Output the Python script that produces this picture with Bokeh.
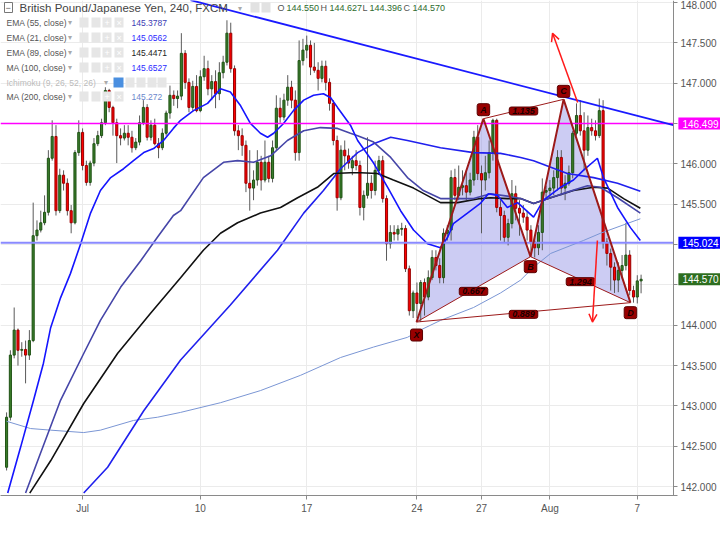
import numpy as np
import pandas as pd
from bokeh.plotting import figure
from bokeh.models import (ColumnDataSource, Label, BoxAnnotation, Arrow, OpenHead,
                          FixedTicker, PrintfTickFormatter)
from bokeh.embed import file_html
from bokeh.resources import INLINE

# ---------------- data ----------------
tick_bars = [20, 51, 79, 108, 125, 143, 166]
tick_labels = ["Jul", "10", "17", "24", "27", "Aug", "7"]
y_ticks = [142.0, 142.5, 143.0, 143.5, 144.0, 144.5, 145.0, 145.5, 146.0, 146.5, 147.0, 147.5, 148.0]
hidden_y_tick = 144.5   # covered by the last-price tag on the original

opens = [142.24, 142.86, 143.63, 143.94, 143.69, 143.70, 143.63, 143.81, 145.11, 145.18,
         145.27, 145.40, 146.07, 146.34, 145.42, 145.86, 145.76, 145.42, 145.27, 146.14,
         146.39, 145.98, 145.77, 146.01, 146.25, 146.35, 146.51, 146.91, 146.70, 146.51,
         146.35, 146.32, 146.38, 146.33, 146.20, 146.27, 146.51, 146.70, 146.33, 146.48,
         146.25, 146.20, 146.38, 146.63, 146.85, 146.81, 146.84, 147.37, 147.01, 146.70,
         146.96, 146.66, 147.08, 147.18, 146.93, 147.02, 146.87, 147.13, 147.26, 147.62,
         147.18, 146.41, 146.35, 146.23, 145.76, 145.70, 145.80, 146.02, 145.80, 146.02,
         145.82, 146.20, 146.69, 146.58, 146.79, 146.95, 146.79, 146.14, 147.28, 147.41,
         147.47, 147.20, 147.16, 147.06, 147.21, 147.01, 146.75, 146.29, 145.58, 146.17,
         146.10, 145.95, 146.04, 145.98, 145.46, 145.61, 145.76, 145.67, 145.92, 146.04,
         145.57, 145.01, 145.15, 145.13, 145.19, 145.20, 144.70, 144.18, 144.40, 144.27,
         144.53, 144.35, 144.59, 144.84, 144.74, 144.59, 145.14, 145.18, 145.83, 145.61,
         145.71, 145.73, 145.65, 145.80, 146.33, 145.88, 145.80, 145.89, 146.14, 146.54,
         145.46, 145.36, 145.09, 145.26, 145.63, 145.45, 145.39, 145.34, 145.18, 145.03,
         144.96, 145.15, 145.65, 145.67, 145.70, 145.83, 146.08, 145.70, 145.76, 145.89,
         146.38, 146.60, 146.41, 146.17, 146.45, 146.41, 146.35, 146.66, 145.03, 144.89,
         144.72, 144.56, 144.68, 144.74, 144.87, 144.43, 144.35, 144.55]
closes = [142.86, 143.63, 143.94, 143.69, 143.70, 143.63, 143.81, 145.11, 145.18, 145.27,
          145.40, 146.07, 146.34, 145.42, 145.86, 145.76, 145.42, 145.27, 146.14, 146.39,
          145.98, 145.77, 146.01, 146.25, 146.35, 146.51, 146.91, 146.70, 146.51, 146.35,
          146.32, 146.38, 146.33, 146.20, 146.27, 146.51, 146.70, 146.33, 146.48, 146.25,
          146.20, 146.38, 146.63, 146.85, 146.81, 146.84, 147.37, 147.01, 146.70, 146.96,
          146.66, 147.08, 147.18, 146.93, 147.02, 146.87, 147.13, 147.26, 147.62, 147.18,
          146.41, 146.35, 146.23, 145.76, 145.70, 145.80, 146.02, 145.80, 146.02, 145.82,
          146.20, 146.69, 146.58, 146.79, 146.95, 146.79, 146.14, 147.28, 147.41, 147.47,
          147.20, 147.16, 147.06, 147.21, 147.01, 146.75, 146.29, 145.58, 146.17, 146.10,
          146.01, 146.04, 145.98, 145.46, 145.61, 145.76, 145.67, 145.92, 146.04, 145.57,
          145.01, 145.15, 145.13, 145.19, 145.20, 144.70, 144.18, 144.40, 144.27, 144.53,
          144.35, 144.59, 144.84, 144.74, 144.59, 145.14, 145.18, 145.83, 145.61, 145.71,
          145.73, 145.65, 145.80, 146.33, 145.88, 145.80, 145.89, 146.14, 146.54, 145.46,
          145.36, 145.09, 145.26, 145.63, 145.45, 145.39, 145.34, 145.18, 145.03, 144.96,
          145.15, 145.65, 145.67, 145.70, 145.83, 146.08, 145.70, 145.76, 145.89, 146.38,
          146.60, 146.41, 146.17, 146.45, 146.41, 146.35, 146.66, 145.03, 144.89, 144.72,
          144.56, 144.68, 144.74, 144.87, 144.43, 144.35, 144.55, 144.57]
highs = [142.92, 143.69, 144.22, 143.96, 143.79, 143.81, 143.94, 145.52, 145.30, 145.42,
         145.61, 146.17, 146.54, 146.48, 145.94, 145.92, 145.82, 145.49, 146.17, 146.54,
         146.44, 146.04, 146.04, 146.32, 146.41, 146.56, 146.95, 146.93, 146.72, 146.56,
         146.44, 146.48, 146.48, 146.41, 146.32, 146.60, 146.79, 146.74, 146.54, 146.56,
         146.32, 146.44, 146.66, 146.97, 146.91, 146.91, 147.62, 147.41, 147.06, 147.03,
         147.10, 147.16, 147.34, 147.28, 147.10, 147.16, 147.26, 147.34, 147.78, 147.75,
         147.22, 146.48, 146.44, 146.29, 146.17, 145.92, 146.17, 146.10, 146.29, 146.10,
         146.29, 146.85, 146.82, 146.87, 147.10, 147.03, 146.91, 147.53, 147.55, 147.59,
         147.53, 147.50, 147.26, 147.28, 147.28, 147.06, 146.79, 146.35, 146.23, 146.29,
         146.19, 146.10, 146.17, 146.04, 145.67, 146.33, 145.86, 146.04, 146.10, 146.10,
         145.61, 145.24, 145.24, 145.24, 145.27, 145.24, 144.74, 144.43, 144.53, 144.56,
         144.58, 144.68, 144.93, 144.93, 144.83, 145.20, 145.24, 145.92, 145.94, 145.98,
         145.92, 145.92, 145.89, 146.41, 146.48, 145.98, 146.10, 146.29, 146.56, 146.56,
         145.55, 145.42, 145.32, 145.80, 145.73, 145.55, 145.49, 145.42, 145.24, 145.11,
         145.24, 145.82, 145.73, 145.80, 145.92, 146.17, 146.17, 145.86, 145.98, 146.41,
         146.75, 146.79, 146.64, 146.60, 146.56, 146.54, 146.81, 146.79, 145.08, 144.95,
         144.78, 144.78, 144.87, 145.27, 144.93, 144.49, 144.62, 144.627]
lows = [142.20, 142.82, 143.59, 143.50, 143.61, 143.28, 143.57, 143.79, 145.05, 145.15,
        145.24, 145.36, 146.04, 145.36, 145.39, 145.67, 145.36, 145.14, 145.25, 146.10,
        145.92, 145.73, 145.73, 145.97, 146.22, 146.32, 146.48, 146.64, 146.35, 146.01,
        146.23, 146.29, 146.23, 146.14, 146.17, 146.23, 146.48, 146.29, 146.29, 146.23,
        146.07, 146.17, 146.35, 146.56, 146.72, 146.69, 146.79, 146.93, 146.64, 146.66,
        146.64, 146.64, 147.03, 146.85, 146.79, 146.69, 146.79, 147.06, 147.22, 147.13,
        146.35, 146.17, 146.10, 145.65, 145.42, 145.55, 145.73, 145.67, 145.77, 145.77,
        145.77, 146.17, 146.51, 146.54, 146.72, 146.69, 146.04, 146.04, 147.22, 147.31,
        147.10, 147.13, 146.91, 147.01, 146.91, 146.66, 146.23, 145.42, 145.55, 145.92,
        145.94, 145.86, 145.92, 145.36, 145.30, 145.57, 145.57, 145.61, 145.89, 145.52,
        144.80, 144.95, 145.05, 145.05, 145.11, 144.66, 144.12, 144.09, 144.09, 144.04,
        144.12, 144.31, 144.56, 144.68, 144.52, 144.52, 145.05, 145.05, 145.55, 145.55,
        145.61, 145.55, 145.61, 145.73, 145.80, 145.14, 145.67, 145.82, 146.04, 145.40,
        145.05, 145.03, 144.99, 145.20, 145.30, 145.11, 145.27, 145.05, 144.87, 144.84,
        144.87, 144.93, 145.57, 145.57, 145.61, 145.67, 145.61, 145.55, 145.73, 145.82,
        146.35, 146.35, 145.92, 146.10, 146.35, 146.29, 146.32, 144.95, 144.74, 144.43,
        144.40, 144.41, 144.58, 144.68, 144.37, 144.28, 144.27, 144.396]

# moving averages (bar position, price)
ema21_x = [0.3, 3.7, 7.1, 9.7, 11.6, 14.2, 16.8, 19.5, 22.1, 24.7, 27.4, 30.8, 33.4, 36.1, 38.7,
           41.3, 43.9, 45.8, 49.2, 52.9, 56.3, 58.9, 61.6, 64.2, 66.8, 68.7, 70.3, 72.9, 75.5,
           78.2, 80.8, 83.4, 85.3, 87.1, 90.5, 92.4, 96.6, 100.3, 103.7, 107.1, 110.8, 114.2,
           116.1, 117.6, 121.3, 124.7, 126.8, 129.2, 131.8, 134.5, 138.7, 141.3, 145.8, 149.2,
           151.8, 155.5, 157.1, 160.8, 164.2, 166.8]
ema21_y = [141.92, 142.49, 143.07, 143.53, 143.97, 144.34, 144.64, 145.01, 145.39, 145.67,
           145.83, 145.94, 146.04, 146.14, 146.19, 146.29, 146.44, 146.54, 146.66, 146.75,
           146.93, 146.89, 146.72, 146.50, 146.38, 146.33, 146.38, 146.50, 146.66, 146.79,
           146.85, 146.87, 146.82, 146.70, 146.48, 146.29, 146.01, 145.71, 145.42, 145.18,
           145.01, 144.96, 145.09, 145.26, 145.39, 145.51, 145.63, 145.61, 145.46, 145.52,
           145.34, 145.55, 145.71, 145.80, 145.92, 146.07, 145.83, 145.46, 145.21, 145.05]
ema55_x = [5.0, 8.9, 14.2, 20.3, 24.7, 30.0, 35.3, 39.7, 43.9, 45.8, 51.8, 57.1, 60.8, 65.0,
           69.5, 73.9, 78.2, 82.6, 87.1, 90.5, 92.4, 96.6, 101.1, 105.5, 109.7, 114.2, 118.7,
           122.9, 127.4, 131.8, 135.3, 138.7, 143.2, 147.6, 152.9, 156.3, 160.8, 166.8]
ema55_y = [141.92, 142.41, 143.07, 143.65, 144.06, 144.47, 144.80, 145.09, 145.36, 145.42,
           145.83, 146.02, 146.04, 146.02, 146.10, 146.29, 146.41, 146.45, 146.44, 146.38,
           146.35, 146.27, 146.08, 145.83, 145.67, 145.57, 145.57, 145.57, 145.63, 145.60,
           145.57, 145.51, 145.58, 145.65, 145.73, 145.71, 145.58, 145.39]
ema89_x = [6.1, 11.6, 20.3, 29.2, 37.9, 45.8, 51.8, 56.3, 60.8, 66.8, 72.1, 76.6, 81.8, 86.1,
           90.5, 93.2, 97.6, 101.8, 107.1, 114.2, 118.7, 124.7, 127.4, 131.8, 135.3, 138.7,
           143.2, 149.2, 154.5, 158.2, 162.4, 166.8]
ema89_y = [141.92, 142.32, 143.03, 143.65, 144.15, 144.59, 144.93, 145.14, 145.27, 145.39,
           145.46, 145.58, 145.71, 145.88, 145.89, 145.89, 145.88, 145.80, 145.70, 145.52,
           145.52, 145.57, 145.58, 145.57, 145.57, 145.51, 145.58, 145.67, 145.71, 145.70,
           145.57, 145.45]
ma100_x = [20.3, 26.6, 36.1, 45.8, 58.9, 71.3, 78.2, 83.4, 87.9, 92.4, 96.6, 101.1, 105.5,
           114.2, 122.9, 130.0, 135.3, 138.7, 147.6, 154.5, 160.8, 166.8]
ma100_y = [141.92, 142.24, 142.94, 143.57, 144.25, 144.93, 145.39, 145.67, 145.94, 146.14,
           146.25, 146.33, 146.29, 146.20, 146.14, 146.13, 146.08, 146.04, 145.88, 145.83,
           145.76, 145.66]
ma200_x = [0.0, 6.3, 11.6, 20.3, 24.7, 33.4, 39.7, 45.8, 56.3, 66.8, 77.4, 87.9, 96.6, 105.5,
           108.9, 114.2, 122.9, 130.0, 135.3, 138.7, 143.2, 151.8, 156.3, 166.8]
ma200_y = [142.81, 142.72, 142.70, 142.67, 142.70, 142.82, 142.86, 142.92, 143.04, 143.19,
           143.38, 143.60, 143.73, 143.85, 143.94, 144.06, 144.22, 144.40, 144.56, 144.72,
           144.89, 145.05, 145.14, 145.32]

# harmonic pattern points
pat_names = ["X", "A", "B", "C", "D"]
pat_x = [107.9, 125.5, 137.9, 146.6, 164.2]
pat_y = [144.04, 146.56, 144.85, 146.80, 144.28]
ratio_pairs = [(0, 2), (1, 3), (2, 4), (0, 4)]
ratio_text = ["0.667", "1.135", "1.294", "0.889"]

# trend line & levels
trend_x = [48.4, 175.5]
trend_y = [148.03, 146.48]
level_magenta = 146.499
level_blue = 145.024
last_price = 144.570

# projection arrows (start bar, start price, end bar, end price)
arrows = [(150.3, 146.76, 143.7, 147.62), (155.5, 145.05, 154.2, 144.04)]

legend_rows = [("EMA (55, close)", "145.3787", "#3c3cb4"),
               ("EMA (21, close)", "145.0562", "#2a2aff"),
               ("EMA (89, close)", "145.4471", "#222222"),
               ("MA (100, close)", "145.6527", "#2a2aff"),
               ("Ichimoku (9, 26, 52, 26)", "", "#bbbbbb"),
               ("MA (200, close)", "145.272", "#6b88cc")]
ohlc = [("O", "144.550"), ("H", "144.627"), ("L", "144.396"), ("C", "144.570")]

# ---------------- figure ----------------
FW, FH = 720, 495
X0, X1 = -1.6, 187.9      # visible bar range (incl. price-scale strip)
AXIS_X = 175.5            # where the price scale sits
p = figure(frame_width=FW, frame_height=FH, x_range=(X0, X1), y_range=(141.89, 148.025),
           y_axis_location="right", output_backend="svg", toolbar_location=None,
           min_border_left=0, min_border_top=0, min_border_right=0, min_border_bottom=0)
p.background_fill_color = "white"
p.border_fill_color = "white"
p.outline_line_color = None

p.yaxis.ticker = FixedTicker(ticks=y_ticks)
p.yaxis.formatter = PrintfTickFormatter(format="%.3f")
p.yaxis.major_label_overrides = {hidden_y_tick: ""}
p.yaxis.fixed_location = AXIS_X
p.xaxis.ticker = FixedTicker(ticks=tick_bars)
p.xaxis.major_label_overrides = {b: t for b, t in zip(tick_bars, tick_labels)}
p.xaxis.bounds = (X0, AXIS_X + 1.2)
for ax in (p.xaxis[0], p.yaxis[0]):
    ax.major_label_text_font_size = "10px"
    ax.major_label_text_color = "#555555"
    ax.major_label_text_font = "Liberation Sans"
    ax.axis_line_color = "#8a8a8a"
    ax.major_tick_line_color = "#8a8a8a"
    ax.major_tick_in = 0
    ax.major_tick_out = 4
    ax.minor_tick_line_color = None
    ax.major_label_standoff = 3
p.xgrid.ticker = FixedTicker(ticks=tick_bars)
p.ygrid.ticker = FixedTicker(ticks=y_ticks)
p.grid.grid_line_color = "#ebebeb"

# blank strip behind the price scale (hides grid there)
p.add_layout(BoxAnnotation(left=AXIS_X, fill_color="white", fill_alpha=1.0, line_alpha=0,
                           level="underlay"))

# pattern fill
p.patches(xs=[[pat_x[0], pat_x[1], pat_x[2]], [pat_x[2], pat_x[3], pat_x[4]]],
          ys=[[pat_y[0], pat_y[1], pat_y[2]], [pat_y[2], pat_y[3], pat_y[4]]],
          fill_color="#8080e0", fill_alpha=0.4, line_color=None)

# candles
df = pd.DataFrame(dict(o=opens, h=highs, l=lows, c=closes))
df["i"] = np.arange(len(df))
df["top"] = df[["o", "c"]].max(axis=1)
df["bot"] = df[["o", "c"]].min(axis=1)
up = df[df.c >= df.o]
dn = df[df.c < df.o]
p.segment(x0="i", y0="h", x1="i", y1="l", source=ColumnDataSource(df), line_color="#5a5a5a", line_width=1)
p.vbar(x="i", top="top", bottom="bot", width=0.55, source=ColumnDataSource(up),
       fill_color="#3b7d2b", line_color="#1e5214", line_width=1)
p.vbar(x="i", top="top", bottom="bot", width=0.55, source=ColumnDataSource(dn),
       fill_color="#ff0000", line_color="#990000", line_width=1)

# moving averages
p.line(ma200_x, ma200_y, line_color="#7b96d4", line_width=1)
p.line(ma100_x, ma100_y, line_color="#2020ee", line_width=1.6)
p.line(ema89_x, ema89_y, line_color="#111111", line_width=1.6)
p.line(ema55_x, ema55_y, line_color="#4646a8", line_width=1.6)
p.line(ema21_x, ema21_y, line_color="#1515ff", line_width=1.6)

# horizontal levels and trend line (up to the price scale)
p.line([X0, AXIS_X], [level_magenta, level_magenta], line_color="#ff00ff", line_width=1.5)
p.line([X0, AXIS_X], [level_blue, level_blue], line_color="#8a8aff", line_width=2)
p.line(trend_x, trend_y, line_color="#1a1aff", line_width=1.8)

# pattern lines
pc = "#9c1a1a"
p.line(pat_x, pat_y, line_color=pc, line_width=2)
for a, b in ratio_pairs:
    p.line([pat_x[a], pat_x[b]], [pat_y[a], pat_y[b]], line_color=pc, line_width=1)

label_style = dict(text_font_size="9px", text_font="Liberation Sans", text_font_style="bold italic",
                   text_color="#1a0000", background_fill_color="#990000", border_line_color="#5a0000",
                   text_align="center", text_baseline="middle", border_radius=2,
                   padding=dict(left=3, right=3, top=1, bottom=1))
offs = [-13, 9, -10, 8, -10]
for n, x, y, o in zip(pat_names, pat_x, pat_y, offs):
    p.add_layout(Label(x=x, y=y, y_offset=o, text=n, **label_style))
for (a, b), t in zip(ratio_pairs, ratio_text):
    p.add_layout(Label(x=(pat_x[a] + pat_x[b]) / 2, y=(pat_y[a] + pat_y[b]) / 2, y_offset=-2,
                       text=t, **label_style))

for x0, y0, x1, y1 in arrows:
    p.add_layout(Arrow(x_start=x0, y_start=y0, x_end=x1, y_end=y1, line_color="#ff1a1a", line_width=1.5,
                       end=OpenHead(size=8, line_color="#ff1a1a", line_width=1.5)))

# price labels on the price scale
for val, bg in ((level_magenta, "#ff00ff"), (level_blue, "#0000ff"), (last_price, "#2d6e1f")):
    p.add_layout(Label(x=AXIS_X, y=val, x_offset=5, text="%.3f" % val,
                       text_font_size="10px", text_font="Liberation Sans", text_color="white",
                       text_baseline="middle", text_align="left", background_fill_color=bg,
                       padding=dict(left=4, right=5, top=2, bottom=2)))

# ---------------- top-left legend ----------------
def slabel(x, ytop, text, size="9px", color="#555555", style="normal"):
    p.add_layout(Label(x=x, y=FH - ytop, x_units="screen", y_units="screen", text=text,
                       text_font_size=size, text_color=color, text_font="Liberation Sans",
                       text_font_style=style, text_baseline="middle", text_align="left"))


def sbox(x0, x1, yc, color, line=None):
    p.add_layout(BoxAnnotation(left=x0, right=x1, top=FH - yc + 5, bottom=FH - yc - 5,
                               left_units="screen", right_units="screen", top_units="screen",
                               bottom_units="screen", fill_color=color if color else "white",
                               fill_alpha=1.0 if color else 0,
                               line_color=line if line else "white", line_alpha=1.0 if line else 0))

sbox(4, 12, 7, None, "#777777")
slabel(5, 7, "\u2212", size="9px", color="#555555")
slabel(19, 7, "British Pound/Japanese Yen, 240, FXCM", size="11.5px", color="#444444")
slabel(237, 8, "\u25BE", size="8px", color="#aaaaaa")
sbox(250, 259, 7, "#e2e2e2")
sbox(261, 270, 7, "#e2e2e2")
ox = [277, 320, 362, 403]
vx = [286, 329, 369, 412]
for (k, v), a, b in zip(ohlc, ox, vx):
    slabel(a, 7, k, size="9px", color="#555555")
    slabel(b, 7, v, size="9px", color="#2e6b2e")

row_y = [22, 37, 52, 67, 82, 96]
for (name, val, col), yc in zip(legend_rows, row_y):
    ich = name.startswith("Ichimoku")
    slabel(6, yc, name, size="8.5px", color="#bbbbbb" if ich else "#555555")
    if ich:
        slabel(103, yc, "\u25BE", size="8px", color="#aaaaaa")
        sbox(113, 123, yc, "#4a8fe0")
        for x0 in (125, 136, 147, 157):
            sbox(x0, x0 + 9, yc, "#e6e6e6")
    else:
        slabel(67, yc, "\u25BE", size="8px", color="#aaaaaa")
        for x0 in (79, 91, 102, 114):
            sbox(x0, x0 + 9, yc, "#e6e6e6")
        slabel(104, yc, "+", size="9px", color="white")
        slabel(116, yc, "\u00D7", size="9px", color="white")
        slabel(131, yc, val, size="8.5px", color=col)

open("out.html", "w").write(file_html(p, INLINE))
